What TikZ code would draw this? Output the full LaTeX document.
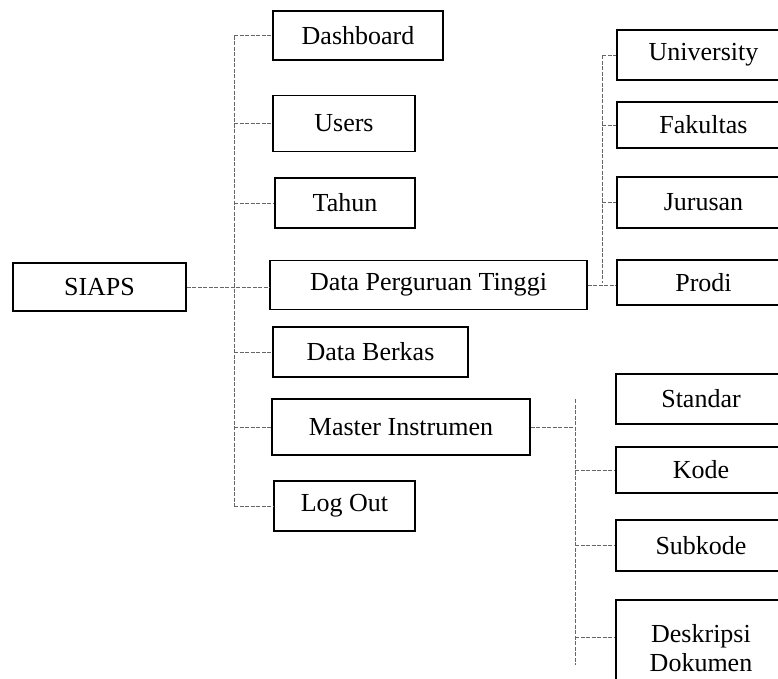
\documentclass[tikz,border=0pt]{standalone}
\usepackage{fontspec}
\setmainfont{Liberation Serif}
\begin{document}
\begin{tikzpicture}[x=1pt,y=-1pt,
	box/.style={draw,line width=1.1pt,inner sep=0pt,align=center,
		font=\fontsize{26}{29}\selectfont,minimum width=#1},
	link/.style={draw=black!60,line width=0.8pt,dash pattern=on 4pt off 1.5pt}]
\useasboundingbox (0,0) rectangle (778,678);
\clip (0,0) rectangle (778,678);
\node[box=173,minimum height=48] (siaps) at (99.5,287) {SIAPS};
\node[box=170,minimum height=49] (dash) at (358,35.5) {Dashboard};
\node[box=142,minimum height=56] (users) at (344,123.5) {Users};
\node[box=140,minimum height=50] (tahun) at (345,203) {Tahun};
\node[box=317,minimum height=49] (dpt) at (428.5,285) {Data Perguruan Tinggi};
\node[box=195,minimum height=50] (berkas) at (370.5,352) {Data Berkas};
\node[box=258,minimum height=56] (master) at (401,427) {Master Instrumen};
\node[box=141,minimum height=50] (logout) at (344.5,506) {Log Out};
\node[box=173,minimum height=50] (univ) at (703.5,55) {University};
\node[box=173,minimum height=46] (fak) at (703.5,125) {Fakultas};
\node[box=173,minimum height=51] (jur) at (703.5,202.5) {Jurusan};
\node[box=173,minimum height=45] (prodi) at (703.5,282.5) {Prodi};
\node[box=170,minimum height=50] (standar) at (701,399) {Standar};
\node[box=170,minimum height=46] (kode) at (701,470) {Kode};
\node[box=170,minimum height=51] (subkode) at (701,545.5) {Subkode};
\node[box=170,minimum height=96] (deskripsi) at (701,648) {Deskripsi\\Dokumen};
\coordinate (t1) at (234,0);
\coordinate (t2) at (602,0);
\coordinate (t3) at (575,0);
\draw[link] (siaps.east) -- (siaps.east -| dpt.west);
\draw[link] (dash.west -| t1) -- (logout.west -| t1);
\foreach \n in {dash,users,tahun,berkas,master,logout}
	\draw[link] (\n.west -| t1) -- (\n.west);
\draw[link] (univ.west -| t2) -- (prodi.west -| t2);
\foreach \n in {univ,fak,jur}
	\draw[link] (\n.west -| t2) -- (\n.west);
\draw[link] (dpt.east) -- (dpt.east -| prodi.west);
\draw[link] (standar.west -| t3) -- (575,665);
\draw[link] (master.east) -- (master.east -| t3);
\draw[link] (kode.west -| t3) -- (kode.west);
\draw[link] (subkode.west -| t3) -- (subkode.west);
\draw[link] (575,637) -- (deskripsi.west |- 0,637);
\end{tikzpicture}
\end{document}
